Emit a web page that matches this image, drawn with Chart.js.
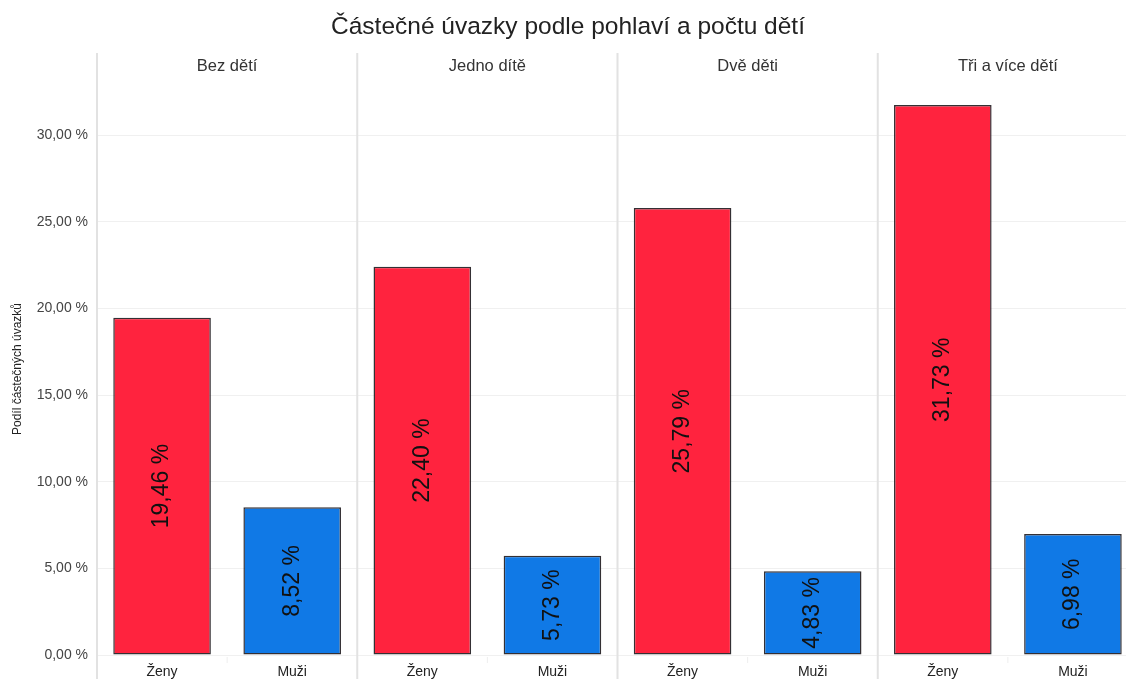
<!DOCTYPE html>
<html lang="cs">
  <head>
    <meta charset="UTF-8" />
    <title>Částečné úvazky podle pohlaví a počtu dětí</title>
    <script src="https://cdn.jsdelivr.net/npm/chart.js@4.4.1/dist/chart.umd.min.js"></script>
    <style>
      html, body { margin: 0; padding: 0; overflow: hidden; background: #fff; }
      #wrap { width: 1140px; height: 679px; position: relative; }
    </style>
  </head>
  <body>
    <div id="wrap"><canvas id="myChart"></canvas></div>

    <script>
      const title = 'Částečné úvazky podle pohlaví a počtu dětí';
      const panels = ['Bez dětí', 'Jedno dítě', 'Dvě děti', 'Tři a více dětí'];
      const pohlavi = ['Ženy', 'Muži'];
      const zeny = [19.46, 22.40, 25.79, 31.73];
      const muzi = [8.52, 5.73, 4.83, 6.98];
      const yTicks = [0, 5, 10, 15, 20, 25, 30];

      const red = 'rgb(255, 35, 62)';
      const blue = 'rgb(16, 121, 230)';
      const font = '"Liberation Sans", Arial, sans-serif';

      // 8 categories: each panel has Ženy + Muži
      const labels = [];
      const values = [];
      const colors = [];
      panels.forEach((p, i) => {
        labels.push(pohlavi[0], pohlavi[1]);
        values.push(zeny[i], muzi[i]);
        colors.push(red, blue);
      });

      const fmt = v => v.toFixed(2).replace('.', ',') + ' %';

      const facetPlugin = {
        id: 'facets',
        beforeDatasetsDraw(chart) {
          const { ctx, chartArea } = chart;
          const w = (chartArea.right - chartArea.left) / panels.length;
          ctx.save();
          ctx.strokeStyle = '#e2e2e2';
          ctx.lineWidth = 2;
          for (let i = 0; i < panels.length; i++) {
            const px = chartArea.left + i * w;
            ctx.beginPath();
            ctx.moveTo(px, 53);
            ctx.lineTo(px, chart.height);
            ctx.stroke();
          }
          // small ticks at panel centres
          ctx.strokeStyle = '#eeeeee';
          ctx.lineWidth = 1;
          for (let i = 0; i < panels.length; i++) {
            const cx = chartArea.left + (i + 0.5) * w;
            ctx.beginPath();
            ctx.moveTo(cx, chartArea.bottom + 2);
            ctx.lineTo(cx, chartArea.bottom + 8);
            ctx.stroke();
          }
          ctx.restore();
        },
        afterDatasetsDraw(chart) {
          const { ctx, chartArea } = chart;
          const w = (chartArea.right - chartArea.left) / panels.length;
          ctx.save();
          // panel headers
          ctx.fillStyle = '#333';
          ctx.font = '16.5px ' + font;
          ctx.textAlign = 'center';
          ctx.textBaseline = 'middle';
          panels.forEach((p, i) => {
            ctx.fillText(p, chartArea.left + (i + 0.5) * w, 66);
          });
          // title
          ctx.fillStyle = '#222';
          ctx.font = '24.5px ' + font;
          ctx.fillText(title, 568, 27);
          // value labels inside bars
          const meta = chart.getDatasetMeta(0);
          ctx.font = '23px ' + font;
          ctx.fillStyle = '#111';
          meta.data.forEach((bar, i) => {
            const cy = (bar.y + bar.base) / 2;
            ctx.save();
            ctx.translate(bar.x, cy);
            ctx.rotate(-Math.PI / 2);
            ctx.fillText(fmt(values[i]), 0, 0);
            ctx.restore();
          });
          ctx.restore();
        }
      };

      const ctx = document.getElementById('myChart').getContext('2d');
      const myChart = new Chart(ctx, {
        type: 'bar',
        data: {
          labels: labels,
          datasets: [
            {
              data: values,
              backgroundColor: colors,
              borderColor: 'rgba(30, 25, 30, 0.9)',
              borderWidth: 1.5,
              borderSkipped: false,
              categoryPercentage: 1,
              barPercentage: 0.75
            }
          ]
        },
        options: {
          responsive: true,
          maintainAspectRatio: false,
          animation: false,
          layout: { padding: { top: 83, right: 2, left: 0, bottom: 0 } },
          plugins: {
            legend: { display: false },
            tooltip: { enabled: false }
          },
          scales: {
            x: {
              grid: { display: false },
              border: { display: false },
              ticks: { color: '#222', font: { family: font, size: 14 }, padding: 1 },
              afterFit(scale) { scale.height = 24; }
            },
            y: {
              min: 0,
              max: 33,
              afterBuildTicks(scale) {
                scale.ticks = yTicks.map(v => ({ value: v }));
              },
              grid: { color: '#f0f0f0', lineWidth: 1, drawTicks: false },
              border: { display: false },
              ticks: {
                color: '#444',
                font: { family: font, size: 14 },
                padding: 9,
                callback: v => fmt(v)
              },
              title: {
                display: true,
                text: 'Podíl částečných úvazků',
                color: '#222',
                font: { family: font, size: 12 },
                padding: { top: 10, bottom: 0 }
              },
              afterFit(scale) { scale.width = 97; }
            }
          }
        },
        plugins: [facetPlugin]
      });
    </script>
  </body>
</html>
